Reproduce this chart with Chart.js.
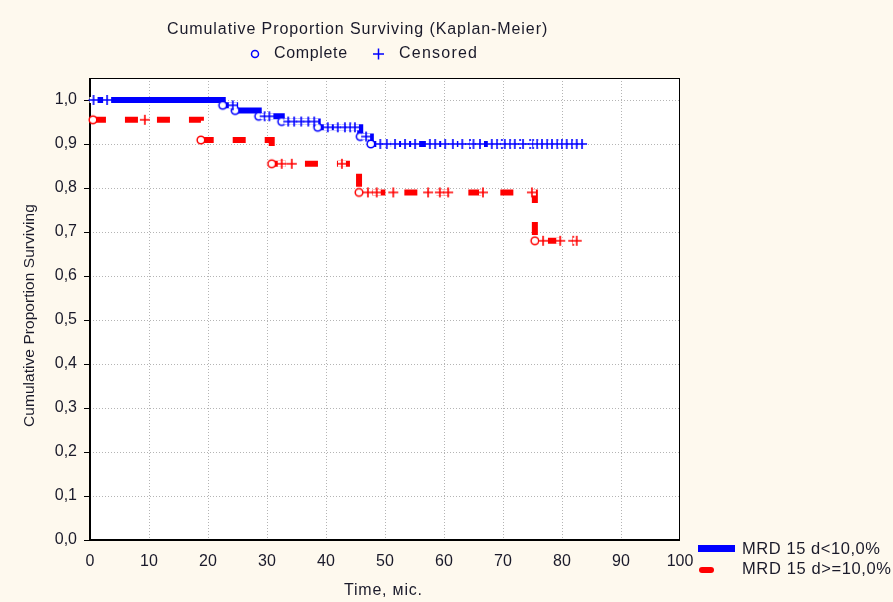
<!DOCTYPE html>
<html><head><meta charset="utf-8">
<script src="https://cdn.jsdelivr.net/npm/chart.js@4.4.1/dist/chart.umd.min.js"></script>
<style>html,body{margin:0;padding:0;background:#fef9ee;overflow:hidden}#wrap{width:893px;height:602px;position:relative}</style>
</head><body><div id="wrap"><canvas id="c" width="893" height="602"></canvas></div>
<script>
// ---------------- data ----------------
const chartTitle = 'Cumulative Proportion Surviving (Kaplan-Meier)';
const markerNames = ['Complete', 'Censored'];
const seriesNames = ['MRD 15 d<10,0%', 'MRD 15 d>=10,0%'];
const xAxisTitle = 'Time, міс.';
const yAxisTitle = 'Cumulative Proportion Surviving';
const xTickValues = [0, 10, 20, 30, 40, 50, 60, 70, 80, 90, 100];
const yTickValues = [0, 0.1, 0.2, 0.3, 0.4, 0.5, 0.6, 0.7, 0.8, 0.9, 1.0];

// group 1 (blue): step curve
const blueStepT = [0, 22.5, 24.6, 28.6, 32.5, 38.6, 45.8, 47.6, 83.5];
const blueStepS = [1.000, 0.988, 0.976, 0.963, 0.951, 0.938, 0.917, 0.900, 0.900];
const blueCompleteT = [22.5, 24.6, 28.6, 32.5, 38.6, 45.8, 47.6];
const blueCensoredT = [0.6, 2.9, 24.2, 29.6, 30.4, 33.6, 34.6, 35.8, 37.0, 38.0, 40.3, 42.0, 43.2, 44.1, 44.9, 46.8,
  49.2, 50.3, 51.7, 53.4, 55.1, 57.6, 58.5, 60.2, 61.5, 63.1, 64.4, 65.0, 66.1, 68.1, 69.0, 69.8, 70.3, 71.2, 72.0,
  72.9, 73.4, 74.6, 75.1, 75.8, 76.6, 77.5, 78.3, 79.2, 80.0, 80.8, 81.7, 82.5, 83.4];

// group 2 (red): step curve
const redStepT = [0.5, 18.8, 30.8, 45.6, 75.4, 83.0];
const redStepS = [0.955, 0.909, 0.855, 0.790, 0.680, 0.680];
const redCompleteT = [0.5, 18.8, 30.8, 45.6, 75.4];
const redCensoredT = [9.3, 32.5, 34.2, 42.7, 47.1, 48.6, 51.4, 57.3, 59.3, 60.7, 66.6, 74.9, 76.8, 79.7, 81.9, 82.5];

// ---------------- styles ----------------
const FONT = '"Liberation Sans", Arial, sans-serif';
const TXT = '#1a1a2a';
const BG = '#fef9ee';
const BLUE = '#0000ff';
const RED = '#ff0000';

function survAt(T, S, t) {
  let v = S[0];
  for (let i = 0; i < T.length; i++) { if (T[i] <= t + 1e-9) v = S[i]; }
  return v;
}
const pts = (T, S) => T.map((t, i) => ({x: t, y: S[i]}));
const ptsOn = (list, T, S) => list.map(t => ({x: t, y: survAt(T, S, t)}));

function makePlus(color) {
  const c = document.createElement('canvas');
  c.width = 12; c.height = 12;
  const g = c.getContext('2d');
  g.fillStyle = '#ffffff';
  g.fillRect(2, 3, 8, 6);
  g.strokeStyle = color; g.lineWidth = 1.6;
  g.beginPath(); g.moveTo(1, 6); g.lineTo(11, 6); g.moveTo(6, 1); g.lineTo(6, 11); g.stroke();
  return c;
}
function makeCircle(color) {
  const c = document.createElement('canvas');
  c.width = 12; c.height = 12;
  const g = c.getContext('2d');
  g.fillStyle = '#ffffff'; g.strokeStyle = color; g.lineWidth = 1.5;
  g.beginPath(); g.arc(6, 6, 3.8, 0, Math.PI * 2); g.fill(); g.stroke();
  return c;
}

function fitText(ctx, text, left, midY, targetW, size) {
  ctx.font = size + 'px ' + FONT;
  const natural = ctx.measureText(text).width;
  const n = text.length;
  let sp = n > 1 ? (targetW - natural) / (n - 1) : 0;
  if (sp < -1) sp = -1;
  const has = ('letterSpacing' in ctx);
  if (has) ctx.letterSpacing = sp.toFixed(2) + 'px';
  ctx.textAlign = 'left'; ctx.textBaseline = 'middle';
  ctx.fillText(text, left, midY);
  if (has) ctx.letterSpacing = '0px';
}

const decor = {
  id: 'decor',
  beforeDraw(chart) {
    const {ctx, chartArea: a} = chart;
    ctx.save();
    ctx.fillStyle = BG; ctx.fillRect(0, 0, chart.width, chart.height);
    ctx.fillStyle = '#ffffff'; ctx.fillRect(a.left, a.top, a.right - a.left, a.bottom - a.top);
    ctx.restore();
  },
  beforeDatasetsDraw(chart) {
    const {ctx, chartArea: a, scales: {x, y}} = chart;
    ctx.save();
    ctx.strokeStyle = '#b4b4b4'; ctx.lineWidth = 1; ctx.setLineDash([1, 2]);
    xTickValues.forEach(v => {
      if (v <= x.min || v >= x.max) return;
      const px = Math.round(x.getPixelForValue(v)) + 0.5;
      ctx.beginPath(); ctx.moveTo(px, a.top); ctx.lineTo(px, a.bottom); ctx.stroke();
    });
    yTickValues.forEach(v => {
      if (v <= y.min) return;
      const py = Math.round(y.getPixelForValue(v)) + 0.5;
      ctx.beginPath(); ctx.moveTo(a.left, py); ctx.lineTo(a.right, py); ctx.stroke();
    });
    ctx.setLineDash([]);
    // box
    ctx.strokeStyle = '#000'; ctx.lineWidth = 1;
    ctx.beginPath();
    ctx.moveTo(a.left, a.top + 0.5); ctx.lineTo(a.right, a.top + 0.5);
    ctx.moveTo(a.right - 0.5, a.top); ctx.lineTo(a.right - 0.5, a.bottom);
    ctx.stroke();
    ctx.lineWidth = 2;
    ctx.beginPath();
    ctx.moveTo(a.left, a.top); ctx.lineTo(a.left, a.bottom);
    ctx.lineTo(a.right, a.bottom);
    ctx.stroke();
    // y tick marks
    ctx.lineWidth = 1;
    yTickValues.forEach(v => {
      const py = Math.round(y.getPixelForValue(v)) + 0.5;
      ctx.beginPath(); ctx.moveTo(a.left - 6, py); ctx.lineTo(a.left, py); ctx.stroke();
    });
    ctx.restore();
  },
  afterDraw(chart) {
    const {ctx} = chart;
    ctx.save();
    ctx.fillStyle = TXT;
    // title and marker legend
    fitText(ctx, chartTitle, 167, 30, 380, 16);
    ctx.strokeStyle = BLUE; ctx.lineWidth = 1.5;
    ctx.beginPath(); ctx.arc(255, 54, 3.5, 0, Math.PI * 2); ctx.stroke();
    ctx.beginPath(); ctx.moveTo(373, 54); ctx.lineTo(384, 54); ctx.moveTo(378.5, 48.5); ctx.lineTo(378.5, 59.5); ctx.stroke();
    ctx.fillStyle = TXT;
    fitText(ctx, markerNames[0], 274, 54, 73, 16);
    fitText(ctx, markerNames[1], 399, 54, 78, 16);
    // axis titles
    fitText(ctx, xAxisTitle, 344, 591, 78, 16);
    ctx.save();
    ctx.translate(30, 316); ctx.rotate(-Math.PI / 2);
    fitText(ctx, yAxisTitle, -111, 0, 223, 15.5);
    ctx.restore();
    // series legend
    ctx.lineCap = 'butt';
    ctx.strokeStyle = BLUE; ctx.lineWidth = 7;
    ctx.beginPath(); ctx.moveTo(698, 548.5); ctx.lineTo(735, 548.5); ctx.stroke();
    ctx.strokeStyle = RED; ctx.lineWidth = 6; ctx.lineCap = 'round';
    ctx.beginPath(); ctx.moveTo(702, 570); ctx.lineTo(711, 570); ctx.stroke();
    ctx.fillStyle = TXT;
    fitText(ctx, seriesNames[0], 742, 549, 138, 16.5);
    fitText(ctx, seriesNames[1], 742, 569, 149, 16.5);
    ctx.restore();
  }
};

const plusBlue = makePlus(BLUE), plusRed = makePlus(RED);
const circBlue = makeCircle(BLUE), circRed = makeCircle(RED);

const markerDs = (data, img) => ({type: 'line', data, showLine: false, pointStyle: img, pointRadius: 5, pointHoverRadius: 5, order: 0, clip: false});

new Chart(document.getElementById('c'), {
  type: 'line',
  data: {
    datasets: [
      {label: seriesNames[0], data: pts(blueStepT, blueStepS), stepped: true, borderColor: BLUE, borderWidth: 6,
        pointRadius: 0, fill: false, order: 2, borderCapStyle: 'butt', borderJoinStyle: 'miter'},
      {label: seriesNames[1], data: pts(redStepT, redStepS), stepped: true, borderColor: RED, borderWidth: 6,
        borderDash: [13, 19], pointRadius: 0, fill: false, order: 1, borderCapStyle: 'butt', borderJoinStyle: 'miter'},
      markerDs(ptsOn(blueCensoredT, blueStepT, blueStepS), plusBlue),
      markerDs(ptsOn(blueCompleteT, blueStepT, blueStepS), circBlue),
      markerDs(ptsOn(redCensoredT, redStepT, redStepS), plusRed),
      markerDs(ptsOn(redCompleteT, redStepT, redStepS), circRed)
    ]
  },
  options: {
    responsive: false, animation: false, devicePixelRatio: 1,
    layout: {padding: {left: 0, right: 213, top: 78, bottom: 0}},
    plugins: {legend: {display: false}, title: {display: false}, tooltip: {enabled: false}},
    events: [],
    scales: {
      x: {
        type: 'linear', min: 0, max: 100,
        afterBuildTicks: s => { s.ticks = xTickValues.map(v => ({value: v})); },
        afterFit: s => { s.height = 62; },
        grid: {display: false, drawTicks: false}, border: {display: false},
        ticks: {font: {family: FONT, size: 16}, color: TXT, padding: 12, maxRotation: 0, autoSkip: false,
          callback: v => String(v)}
      },
      y: {
        type: 'linear', min: 0, max: 1.05,
        afterBuildTicks: s => { s.ticks = yTickValues.map(v => ({value: v})); },
        afterFit: s => { s.width = 90; },
        grid: {display: false, drawTicks: false}, border: {display: false},
        ticks: {font: {family: FONT, size: 16}, color: TXT, padding: 13, autoSkip: false,
          callback: v => Number(v).toFixed(1).replace('.', ',')}
      }
    }
  },
  plugins: [decor]
});
</script></body></html>
